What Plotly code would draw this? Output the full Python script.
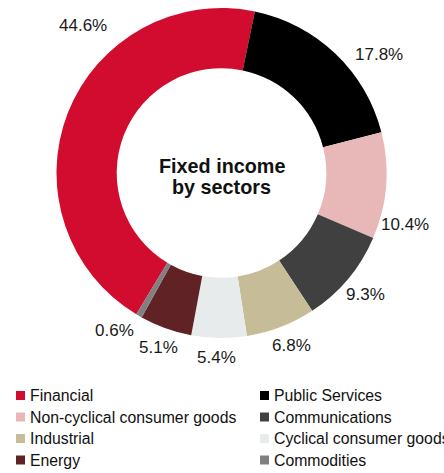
import plotly.graph_objects as go

# Sector breakdown of the fixed income portfolio (% of total)
sectors = [
    "Financial",
    "Public Services",
    "Non-cyclical consumer goods",
    "Communications",
    "Industrial",
    "Cyclical consumer goods",
    "Energy",
    "Commodities",
]
weights = [44.6, 17.8, 10.4, 9.3, 6.8, 5.4, 5.1, 0.6]
colors = [
    "#D20C2F",
    "#000000",
    "#E8B8B8",
    "#404040",
    "#C6BD98",
    "#E8EBEB",
    "#612225",
    "#808080",
]

W, H = 444, 473
CX, CY, R = 221.5, 173, 165   # donut centre and outer radius in px


def px(x):
    return x / W


def py(y):
    return 1 - y / H


fig = go.Figure(
    go.Pie(
        labels=sectors,
        values=weights,
        marker=dict(colors=colors, line=dict(width=0)),
        hole=0.635,
        sort=False,
        direction="clockwise",
        rotation=211.1,
        textinfo="none",
        hoverinfo="label+percent",
        showlegend=False,
        domain=dict(x=[px(CX - R), px(CX + R)], y=[py(CY + R), py(CY - R)]),
    )
)

# Centres of the percentage labels around the ring (px)
label_centres = [
    (83, 26),
    (379, 55),
    (405, 224),
    (365, 294),
    (291, 345),
    (216, 357),
    (158, 347),
    (114, 330),
]

annotations = []
for w, (lx, ly) in zip(weights, label_centres):
    annotations.append(dict(
        x=px(lx), y=py(ly), xref="paper", yref="paper",
        text=f"{w:.1f}%", showarrow=False,
        xanchor="center", yanchor="middle",
        font=dict(family="Liberation Sans, Arial, sans-serif", size=17, color="#1a1a1a"),
    ))

# Title in the hole
for line, ly in (("Fixed income", 166), ("by sectors", 187)):
    annotations.append(dict(
        x=px(CX), y=py(ly), xref="paper", yref="paper",
        text=f"<b>{line}</b>", showarrow=False,
        xanchor="center", yanchor="middle",
        font=dict(family="Liberation Sans, Arial, sans-serif", size=19.8, color="#111111"),
    ))

# Two-column legend under the chart
shapes = []
col_x = [16, 260]
row_y = [395.5, 417, 438.5, 460]
for i, (name, c) in enumerate(zip(sectors, colors)):
    mx = col_x[i % 2]
    my = row_y[i // 2]
    shapes.append(dict(
        type="rect", xref="paper", yref="paper",
        x0=px(mx), x1=px(mx + 9), y0=py(my + 4.5), y1=py(my - 4.5),
        fillcolor=c, line=dict(width=0),
    ))
    annotations.append(dict(
        x=px(mx + 12), y=py(my), xref="paper", yref="paper",
        text=name, showarrow=False,
        xanchor="left", yanchor="middle",
        font=dict(family="Liberation Sans, Arial, sans-serif", size=15.8, color="#111111"),
    ))

fig.update_layout(
    width=W, height=H,
    margin=dict(l=0, r=0, t=0, b=0),
    paper_bgcolor="white",
    plot_bgcolor="white",
    annotations=annotations,
    shapes=shapes,
)

fig.write_html("out.html")
